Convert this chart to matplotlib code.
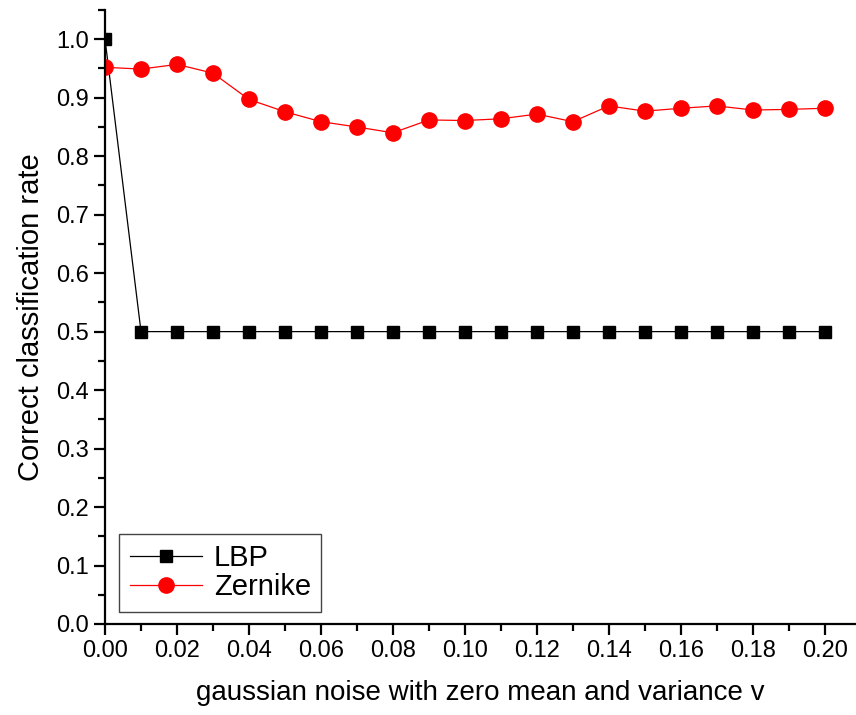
import matplotlib
matplotlib.use("Agg")
import matplotlib.pyplot as plt
from matplotlib.ticker import MultipleLocator

noise = [0.00, 0.01, 0.02, 0.03, 0.04, 0.05, 0.06, 0.07, 0.08, 0.09, 0.10,
         0.11, 0.12, 0.13, 0.14, 0.15, 0.16, 0.17, 0.18, 0.19, 0.20]
lbp = [1.0] + [0.5] * 20
zernike = [0.952, 0.949, 0.957, 0.942, 0.897, 0.876, 0.859, 0.850, 0.840, 0.862, 0.861,
           0.864, 0.872, 0.859, 0.886, 0.877, 0.882, 0.886, 0.879, 0.880, 0.882]

plt.rcParams["font.family"] = ["Liberation Sans", "DejaVu Sans"]

fig = plt.figure(figsize=(8.56, 7.15), dpi=100)
ax = fig.add_axes([0.1227, 0.1273, 0.877, 0.8587])

ax.plot(noise, lbp, color="black", lw=0.9, marker="s", markersize=9, label="LBP")
ax.plot(noise, zernike, color="red", lw=0.9, marker="o", markersize=11, label="Zernike")

ax.set_xlim(0, 0.2086)
ax.set_ylim(0, 1.05)
ax.xaxis.set_major_locator(MultipleLocator(0.02))
ax.xaxis.set_minor_locator(MultipleLocator(0.01))
ax.yaxis.set_major_locator(MultipleLocator(0.1))
ax.yaxis.set_minor_locator(MultipleLocator(0.05))
ax.xaxis.set_major_formatter(plt.FuncFormatter(lambda v, p: f"{v:.2f}"))
ax.yaxis.set_major_formatter(plt.FuncFormatter(lambda v, p: f"{v:.1f}"))

for side in ("top", "right"):
    ax.spines[side].set_visible(False)
for side in ("left", "bottom"):
    ax.spines[side].set_linewidth(1.6)
ax.tick_params(which="major", direction="out", length=8, width=1.6, labelsize=17)
ax.tick_params(which="minor", direction="out", length=5, width=1.6)

ax.set_xlabel("gaussian noise with zero mean and variance v", fontsize=20, labelpad=13)
ax.set_ylabel("Correct classification rate", fontsize=21, labelpad=8)

leg = ax.legend(loc="lower left", bbox_to_anchor=(0.019, 0.02), borderaxespad=0,
                fontsize=21, fancybox=False, edgecolor="#444444", framealpha=1,
                handlelength=2.5, borderpad=0.35, labelspacing=0.05, handletextpad=0.4)
leg.get_frame().set_linewidth(1.0)

fig.savefig("out.png", dpi=100)
